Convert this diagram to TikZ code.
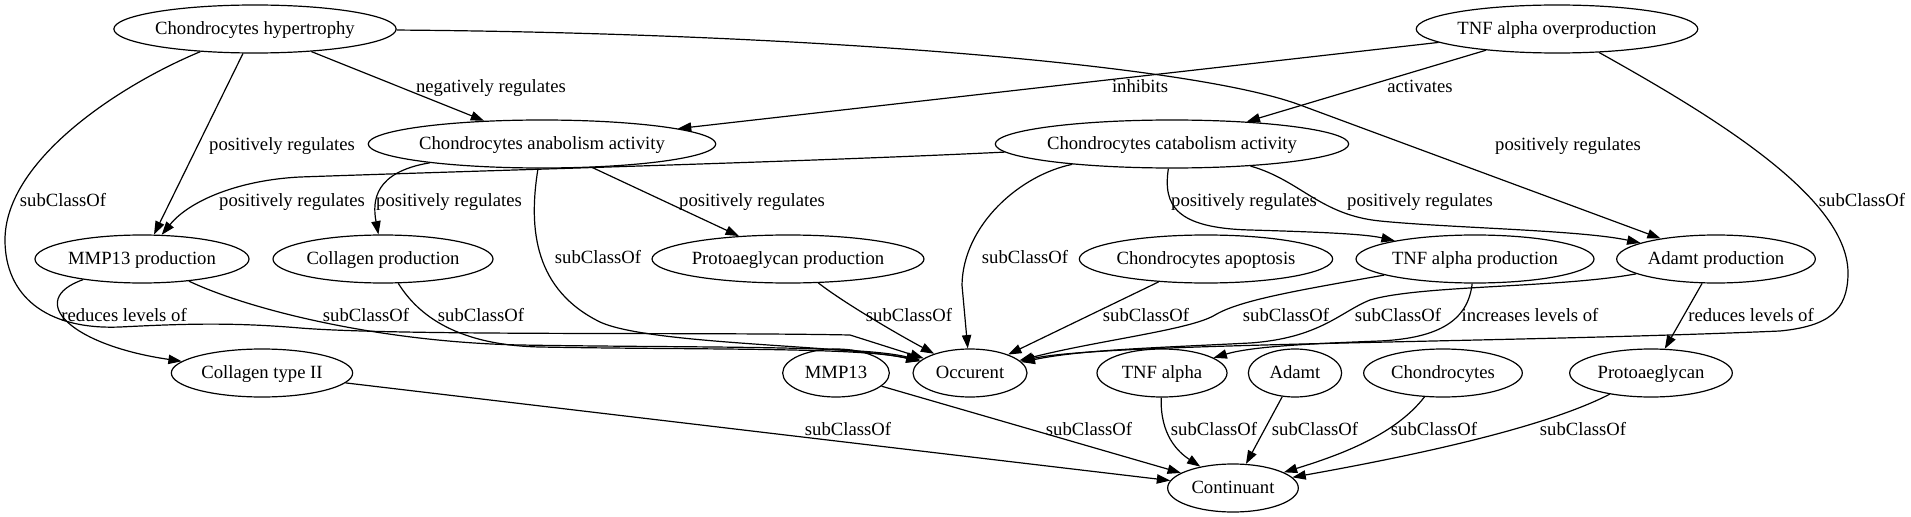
\documentclass[tikz,border=0pt]{standalone}
\usepackage{fontspec}
\setmainfont{Liberation Serif}
\usetikzlibrary{arrows.meta,shapes.geometric}
\begin{document}
\begin{tikzpicture}[x=0.75pt,y=-0.75pt,
  every node/.style={font=\fontsize{14pt}{16pt}\selectfont},
  cls/.style={draw, ellipse, line width=0.9pt, inner sep=0pt, minimum height=36pt, text height=11pt, text depth=3pt},
  lbl/.style={inner sep=0pt, text height=11pt, text depth=3pt},
  rel/.style={line width=0.9pt, -{Triangle[length=10pt,width=7pt]}}]
\useasboundingbox (0,0) rectangle (1911,517);
% nodes
\node[cls, minimum width=209pt] (hyp) at (255,29) {Chondrocytes hypertrophy};
\node[cls, minimum width=210pt] (tnfo) at (1557,29) {TNF alpha overproduction};
\node[cls, minimum width=253.5pt] (ana) at (542,144) {Chondrocytes anabolism activity};
\node[cls, minimum width=258pt] (cat) at (1172,144) {Chondrocytes catabolism activity};
\node[cls, minimum width=160.5pt] (mmpp) at (142,259) {MMP13 production};
\node[cls, minimum width=165pt] (colp) at (383,259) {Collagen production};
\node[cls, minimum width=203pt] (prop) at (788,259) {Protoaeglycan production};
\node[cls, minimum width=190pt] (apo) at (1206,259) {Chondrocytes apoptosis};
\node[cls, minimum width=178.5pt] (tnfp) at (1475,259) {TNF alpha production};
\node[cls, minimum width=149pt] (adp) at (1716,259) {Adamt production};
\node[cls, minimum width=136pt] (col2) at (262,373) {Collagen type II};
\node[cls, minimum width=80pt] (mmp) at (836,373) {MMP13};
\node[cls, minimum width=85.5pt] (occ) at (970,373) {Occurent};
\node[cls, minimum width=97.5pt] (tnf) at (1162,373) {TNF alpha};
\node[cls, minimum width=70pt] (ada) at (1295,373) {Adamt};
\node[cls, minimum width=119pt] (cho) at (1443,373) {Chondrocytes};
\node[cls, minimum width=122pt] (pro) at (1651,373) {Protoaeglycan};
\node[cls, minimum width=98pt] (cont) at (1233,488) {Continuant};
% edges
\draw[rel] (hyp) -- (ana);
\draw[rel] (hyp) -- (mmpp);
\draw[rel] (hyp) .. controls (120,85) and (5,160) .. (5,240) .. controls (5,295) and (45,330) .. (120,327) .. controls (180,324) and (230,322) .. (300,328) .. controls (400,336) and (700,332) .. (850,335) -- (occ);
\draw[rel] (hyp) .. controls (800,33) and (1190,64) .. (1300,105) -- (adp);
\draw[rel] (tnfo) -- (ana);
\draw[rel] (tnfo) -- (cat);
\draw[rel] (tnfo) .. controls (1720,120) and (1850,200) .. (1848,275) .. controls (1847,310) and (1830,326) .. (1780,331) .. controls (1500,343) and (1100,343) .. (occ);
\draw[rel] (cat) .. controls (800,162) and (500,170) .. (300,177) .. controls (240,180) and (190,200) .. (mmpp);
\draw[rel] (ana) .. controls (375,172) and (372,200) .. (colp);
\draw[rel] (ana) .. controls (528,230) and (535,290) .. (600,322) .. controls (650,345) and (850,345) .. (occ);
\draw[rel] (ana) -- (prop);
\draw[rel] (cat) .. controls (1020,175) and (963,225) .. (962,285) -- (occ);
\draw[rel] (cat) .. controls (1163,205) and (1175,228) .. (1250,230) .. controls (1320,232) and (1365,234) .. (tnfp);
\draw[rel] (cat) .. controls (1300,180) and (1320,215) .. (1380,221) .. controls (1450,228) and (1580,230) .. (adp);
\draw[rel] (mmpp) .. controls (25,300) and (70,345) .. (col2);
\draw[rel] (mmpp) .. controls (250,310) and (380,342) .. (520,345) .. controls (700,348) and (860,345) .. (occ);
\draw[rel] (colp) .. controls (415,310) and (450,345) .. (540,347) .. controls (700,350) and (860,347) .. (occ);
\draw[rel] (prop) .. controls (840,300) and (890,330) .. (occ);
\draw[rel] (apo) -- (occ);
\draw[rel] (tnfp) .. controls (1300,290) and (1240,300) .. (1215,315) .. controls (1190,330) and (1100,340) .. (occ);
\draw[rel] (adp) .. controls (1560,288) and (1420,285) .. (1370,300) .. controls (1340,312) and (1320,338) .. (1250,343) .. controls (1150,348) and (1080,350) .. (occ);
\draw[rel] (tnfp) .. controls (1468,320) and (1440,338) .. (1380,341) .. controls (1300,344) and (1250,347) .. (tnf);
\draw[rel] (adp) -- (pro);
\draw[rel] (col2) -- (cont);
\draw[rel] (mmp) -- (cont);
\draw[rel] (tnf) .. controls (1160,435) and (1178,452) .. (cont);
\draw[rel] (ada) -- (cont);
\draw[rel] (cho) .. controls (1395,435) and (1340,455) .. (cont);
\draw[rel] (pro) .. controls (1540,430) and (1400,458) .. (cont);
% labels
\node[lbl] (l1) at (491,87) {negatively regulates};
\node[lbl] (l2) at (282,145) {positively regulates};
\node[lbl] (l3) at (63,201) {subClassOf};
\node[lbl] (l4) at (1568,145) {positively regulates};
\node[lbl] (l5) at (1140,87) {inhibits};
\node[lbl] (l6) at (1420,87) {activates};
\node[lbl] (l7) at (1862,201) {subClassOf};
\node[lbl] (l8) at (292,201) {positively regulates};
\node[lbl] (l9) at (449,201) {positively regulates};
\node[lbl] (l10) at (598,258) {subClassOf};
\node[lbl] (l11) at (752,201) {positively regulates};
\node[lbl] (l12) at (1025,258) {subClassOf};
\node[lbl] (l13) at (1244,201) {positively regulates};
\node[lbl] (l14) at (1420,201) {positively regulates};
\node[lbl] (l15) at (124,316) {reduces levels of};
\node[lbl] (l16) at (366,316) {subClassOf};
\node[lbl] (l17) at (481,316) {subClassOf};
\node[lbl] (l18) at (909,316) {subClassOf};
\node[lbl] (l19) at (1146,316) {subClassOf};
\node[lbl] (l20) at (1286,316) {subClassOf};
\node[lbl] (l21) at (1398,316) {subClassOf};
\node[lbl] (l22) at (1530,316) {increases levels of};
\node[lbl] (l23) at (1751,316) {reduces levels of};
\node[lbl] (l24) at (848,430) {subClassOf};
\node[lbl] (l25) at (1089,430) {subClassOf};
\node[lbl] (l26) at (1214,430) {subClassOf};
\node[lbl] (l27) at (1315,430) {subClassOf};
\node[lbl] (l28) at (1434,430) {subClassOf};
\node[lbl] (l29) at (1583,430) {subClassOf};
\end{tikzpicture}
\end{document}
